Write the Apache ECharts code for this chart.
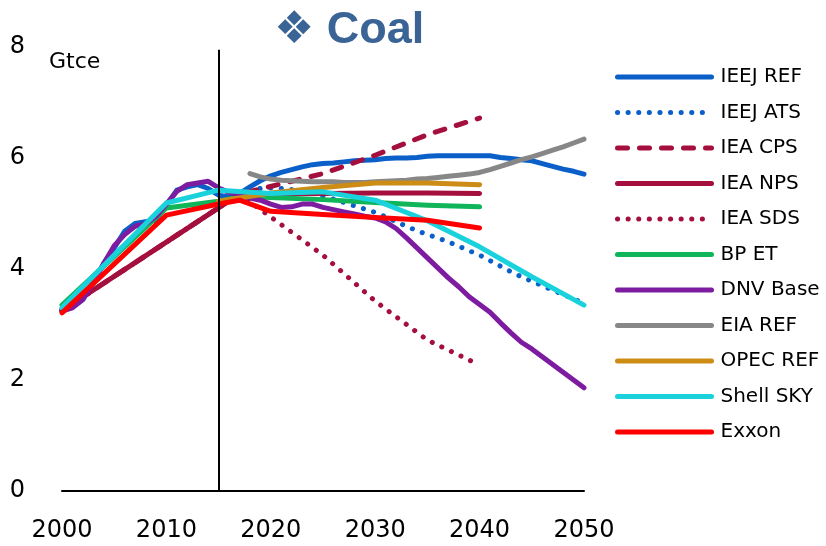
<!DOCTYPE html>
<html>
<head>
<meta charset="utf-8">
<title>Coal</title>
<script src="https://cdn.jsdelivr.net/npm/echarts@6/dist/echarts.min.js"></script>
<style>
    html, body { margin: 0; padding: 0; background: #fff; }
    #chart { width: 826px; height: 546px; }
</style>
</head>
<body>
<div id="chart"></div>
<script>
// years helper for the annual series (x values only)
function years(from, to) {
    var out = [];
    for (var y = from; y <= to; y++) out.push(y);
    return out;
}

var xTicks = [2000, 2010, 2020, 2030, 2040, 2050];
var yTicks = [0, 2, 4, 6, 8];
var baseYear = 2015;

// IEEJ (annual)
var ieejRefYears = years(2000, 2050);
var ieejRef = [3.27, 3.32, 3.45, 3.78, 4.10, 4.38, 4.68, 4.82, 4.85, 4.88, 5.15,
    5.42, 5.48, 5.52, 5.45, 5.33, 5.30, 5.36, 5.48, 5.59, 5.68,
    5.74, 5.79, 5.84, 5.88, 5.90, 5.91, 5.93, 5.95, 5.96, 5.97,
    5.99, 6.00, 6.00, 6.01, 6.03, 6.04, 6.04, 6.04, 6.04, 6.04,
    6.04, 6.01, 5.99, 5.97, 5.95, 5.90, 5.85, 5.80, 5.76, 5.71];
var ieejAtsYears = years(2017, 2050);
var ieejAts = [5.36, 5.42, 5.45, 5.46, 5.45, 5.43, 5.40, 5.36, 5.31,
    5.26, 5.20, 5.14, 5.08, 5.02, 4.94, 4.85, 4.77, 4.69, 4.62,
    4.56, 4.49, 4.41, 4.33, 4.25, 4.15, 4.05, 3.95, 3.86, 3.78,
    3.70, 3.62, 3.54, 3.46, 3.38];

// IEA
var ieaYears = [2000, 2017, 2025, 2030, 2035, 2040];
var ieaCps = [3.25, 5.35, 5.72, 6.05, 6.42, 6.72];
var ieaNps = [3.25, 5.35, 5.36, 5.37, 5.37, 5.36];
var ieaSds = [3.25, 5.35, 4.25, 3.42, 2.72, 2.27];

// BP
var bpYears = [2000, 2010, 2015, 2017, 2020, 2025, 2030, 2035, 2040];
var bpEt = [3.35, 5.10, 5.22, 5.30, 5.29, 5.25, 5.20, 5.15, 5.12];

// DNV (annual)
var dnvYears = years(2000, 2050);
var dnvBase = [3.24, 3.30, 3.45, 3.75, 4.10, 4.42, 4.62, 4.77, 4.81, 4.95, 5.17,
    5.40, 5.52, 5.55, 5.58, 5.46, 5.38, 5.33, 5.28, 5.24, 5.17,
    5.11, 5.12, 5.17, 5.17, 5.11, 5.07, 5.03, 4.99, 4.95, 4.92,
    4.85, 4.73, 4.56, 4.38, 4.20, 4.02, 3.84, 3.68, 3.50, 3.36,
    3.22, 3.03, 2.85, 2.68, 2.56, 2.42, 2.28, 2.14, 2.00, 1.86];

// EIA (annual)
var eiaYears = years(2018, 2050);
var eiaRef = [5.72, 5.66, 5.62, 5.60, 5.59, 5.58, 5.57, 5.57, 5.57, 5.56,
    5.56, 5.56, 5.57, 5.58, 5.59, 5.60, 5.62, 5.63, 5.65, 5.67,
    5.69, 5.71, 5.74, 5.79, 5.85, 5.91, 5.97, 6.02, 6.08, 6.14,
    6.20, 6.27, 6.34];

// OPEC
var opecYears = [2015, 2020, 2025, 2030, 2035, 2040];
var opecRef = [5.22, 5.37, 5.47, 5.55, 5.55, 5.52];

// Shell
var shellYears = [2000, 2005, 2010, 2015, 2020, 2025, 2030, 2035, 2040, 2045, 2050];
var shellSky = [3.30, 4.25, 5.19, 5.42, 5.36, 5.39, 5.24, 4.87, 4.40, 3.86, 3.35];

// Exxon
var exxonYears = [2000, 2010, 2015, 2017, 2020, 2025, 2030, 2035, 2040];
var exxon = [3.21, 4.97, 5.17, 5.24, 5.04, 4.98, 4.93, 4.88, 4.74];

var legendNames = ['IEEJ REF', 'IEEJ ATS', 'IEA CPS', 'IEA NPS', 'IEA SDS', 'BP ET',
    'DNV Base', 'EIA REF', 'OPEC REF', 'Shell SKY', 'Exxon'];

function pairs(xs, ys) {
    return xs.map(function (x, i) { return [x, ys[i]]; });
}

var LW = 5;
var DOT = [0.1, 10.5];
var DASH = [10, 12];

function line(name, xs, ys, color, type) {
    return {
        name: name,
        type: 'line',
        data: pairs(xs, ys),
        symbol: 'none',
        smooth: false,
        silent: true,
        lineStyle: { width: LW, color: color, type: type || 'solid', cap: 'round', join: 'round' },
        itemStyle: { color: color }
    };
}

var dom = document.getElementById('chart');
var myChart = echarts.init(dom, null, { renderer: 'canvas' });

var series = [
    line('IEEJ REF', ieejRefYears, ieejRef, '#0A5FC8'),
    line('IEEJ ATS', ieejAtsYears, ieejAts, '#0A5FC8', DOT),
    line('IEA CPS', ieaYears, ieaCps, '#A50F3D', DASH),
    line('IEA NPS', ieaYears, ieaNps, '#A50F3D'),
    line('IEA SDS', ieaYears, ieaSds, '#A50F3D', DOT),
    line('BP ET', bpYears, bpEt, '#10B55A'),
    line('DNV Base', dnvYears, dnvBase, '#7E1CA1'),
    line('EIA REF', eiaYears, eiaRef, '#878787'),
    line('OPEC REF', opecYears, opecRef, '#CD8C16'),
    line('Shell SKY', shellYears, shellSky, '#1AD2DC'),
    line('Exxon', exxonYears, exxon, '#FF0000')
];

// the black line at the base year
series[series.length - 1].markLine = {
    silent: true,
    symbol: ['none', 'none'],
    label: { show: false },
    lineStyle: { color: '#000', width: 2, type: 'solid' },
    data: [[{ coord: [baseYear, 0] }, { coord: [baseYear, 7.95] }]]
};

var option = {
    backgroundColor: '#fff',
    animation: false,
    title: {
        text: '\u2756 Coal',
        left: 274,
        top: 8,
        padding: 0,
        textStyle: {
            fontFamily: '"Liberation Sans", "DejaVu Sans", sans-serif',
            fontSize: 45,
            fontWeight: 'bold',
            color: '#3A6396'
        }
    },
    legend: {
        data: legendNames,
        orient: 'vertical',
        left: 615,
        top: 67,
        padding: 0,
        itemWidth: 94,
        itemHeight: 20,
        itemGap: 15.5,
        selectedMode: false,
        lineStyle: { width: LW },
        // hide the marker dot, keep only the line
        itemStyle: { color: 'rgba(0,0,0,0)', borderWidth: 0, opacity: 0 },
        textStyle: {
            fontFamily: '"DejaVu Sans", sans-serif',
            fontSize: 20,
            lineHeight: 20,
            color: '#000',
            padding: [0, 0, 0, 4]
        }
    },
    graphic: [{
        type: 'text',
        left: 49,
        top: 51,
        silent: true,
        style: {
            text: 'Gtce',
            font: '22px "DejaVu Sans", sans-serif',
            fill: '#000'
        }
    }],
    grid: {
        left: 62,
        right: 242,
        top: 47,
        bottom: 55,
        containLabel: false
    },
    xAxis: {
        type: 'value',
        min: xTicks[0],
        max: xTicks[xTicks.length - 1],
        interval: 10,
        axisLine: { show: true, onZero: false, lineStyle: { color: '#000', width: 2 } },
        axisTick: { show: false },
        splitLine: { show: false },
        axisLabel: {
            margin: 28,
            fontFamily: '"DejaVu Sans", sans-serif',
            fontSize: 24,
            color: '#000',
            formatter: function (v) { return String(v); }
        }
    },
    yAxis: {
        type: 'value',
        min: yTicks[0],
        max: yTicks[yTicks.length - 1],
        interval: 2,
        axisLine: { show: false },
        axisTick: { show: false },
        splitLine: { show: false },
        axisLabel: {
            margin: 37,
            align: 'right',
            fontFamily: '"DejaVu Sans", sans-serif',
            fontSize: 24,
            color: '#000',
            padding: [0, 0, 4, 0]
        }
    },
    series: series
};

if (option && typeof option === "object") {
    myChart.setOption(option, true);
}
</script>
</body>
</html>
